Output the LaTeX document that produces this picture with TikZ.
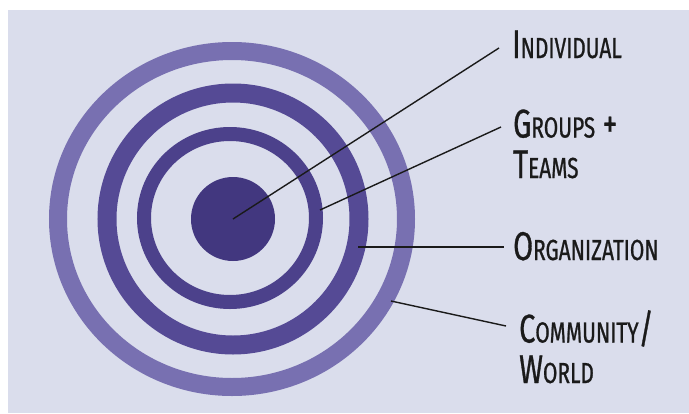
\documentclass[tikz,border=0pt]{standalone}
\usepackage{fontspec}
\newfontfamily\labfont[FakeStretch=0.72,FakeBold=0.8]{Fira Sans}
\newcommand{\capsc}[2]{{\fontsize{40}{40.5}\selectfont #1}{\fontsize{29}{40.5}\selectfont #2}}
\definecolor{bgpanel}{HTML}{DADDEC}
\definecolor{ringA}{HTML}{7870B1}
\definecolor{ringB}{HTML}{554A95}
\definecolor{ringC}{HTML}{4C418B}
\definecolor{blobc}{HTML}{42377F}
\definecolor{ink}{HTML}{1A1A1A}
\tikzset{
  ring/.style={draw=#1},
  lab/.style={inner sep=0pt, anchor=base west, align=left, text=ink,
    font=\labfont\fontsize{40}{40.5}\selectfont},
  leader/.style={draw=ink, line width=1.4pt}
}
\begin{document}
\begin{tikzpicture}[x=1pt,y=-1pt]
\useasboundingbox (0,0) rectangle (689,413);
\fill[white] (0,0) rectangle (689,413);
\fill[bgpanel] (8,10) rectangle (689,413);
% rings
\draw[ring=ringA, line width=18pt] (232,219) ellipse [x radius=174pt, y radius=168pt];
\draw[ring=ringB, line width=19pt] (233,219) ellipse [x radius=126pt, y radius=126pt];
\draw[ring=ringC, line width=14pt] (230,218) ellipse [x radius=86pt, y radius=84pt];
\node[circle, fill=blobc, minimum size=84pt, inner sep=0pt] (blob) at (233,219) {};
% labels (base = baseline of the last line)
\node[lab] (ind) at (512,58) {\capsc{I}{NDIVIDUAL}};
\node[lab] (grp) at (513,178) {\capsc{G}{ROUPS} +\\\capsc{T}{EAMS}};
\node[lab] (org) at (513,260) {\capsc{O}{RGANIZATION}};
\node[lab] (com) at (519,383) {\capsc{C}{OMMUNITY}/\\\capsc{W}{ORLD}};
% leader end points
\coordinate (s2) at (320,210);
\coordinate (s3) at (358,247);
\coordinate (s4) at (391,301);
\coordinate (e1) at (499,48);
\coordinate (e2) at (501,127);
\coordinate (e3) at (504,247);
\coordinate (e4) at (506,326);
\draw[leader] (blob.center) -- (e1);
\draw[leader] (s2) -- (e2);
\draw[leader] (s3) -- (e3);
\draw[leader] (s4) -- (e4);
\end{tikzpicture}
\end{document}
